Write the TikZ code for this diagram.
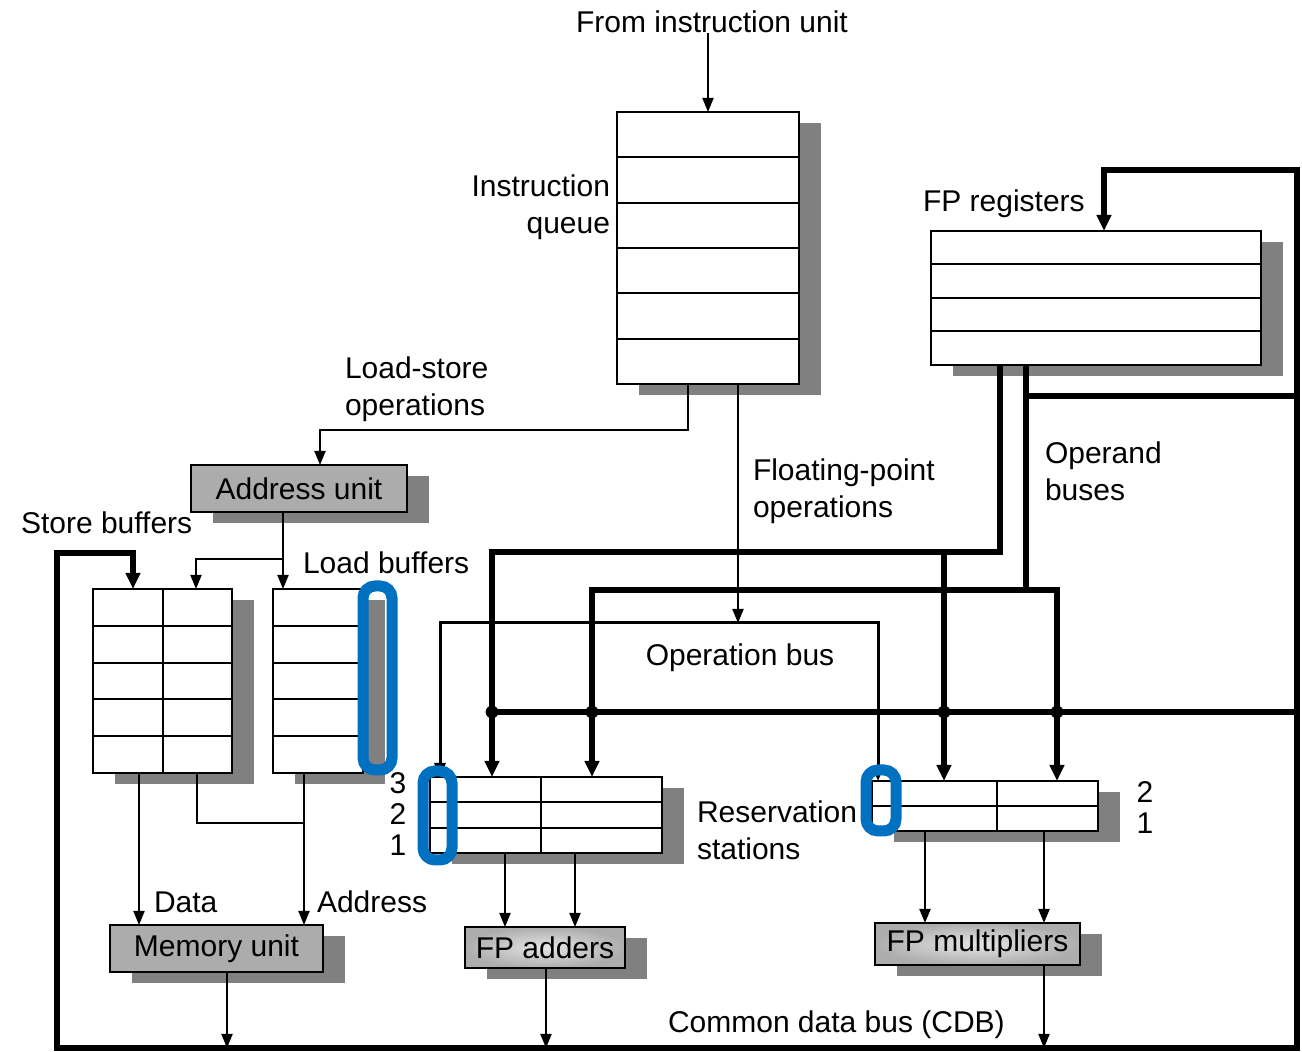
\documentclass[tikz,border=0pt]{standalone}
\usepackage{fontspec}
\setmainfont{Liberation Sans}
\usetikzlibrary{arrows.meta,positioning,calc,shadows}

\definecolor{shadegray}{RGB}{128,128,128}
\definecolor{unitgray}{RGB}{172,172,172}
\definecolor{hiblue}{RGB}{0,112,192}

\begin{document}
\begin{tikzpicture}[x=0.5pt, y=-0.5pt, line width=1pt,
  >={Triangle[length=7pt,width=5.5pt]},
  font=\fontsize{15}{18.5}\selectfont,
  every node/.style={inner sep=0pt, outer sep=0pt}]
\tikzstyle{table}=[draw, fill=white, anchor=north west,
  drop shadow={shadow xshift=11pt, shadow yshift=-5.5pt, fill=shadegray, opacity=1}]
\tikzstyle{rows}=[path picture={\foreach \k in {1,...,#1}
  \draw[line width=1pt] ($(path picture bounding box.north west)!{\k/(#1+1)}!(path picture bounding box.south west)$)
    -- ($(path picture bounding box.north east)!{\k/(#1+1)}!(path picture bounding box.south east)$);}]
\tikzstyle{unit}=[table, fill=unitgray]
\tikzstyle{fpunit}=[unit, inner color=white!90!black, outer color=black!32]
\tikzstyle{bus}=[line width=2.6pt, >={Triangle[length=8pt,width=7pt]}]
\tikzstyle{opbus}=[line width=1.5pt]
\tikzstyle{hilite}=[draw=hiblue, line width=5.5pt, rounded corners=6pt]
\useasboundingbox (0,0) rectangle (1302,1052);

% register files and buffers
\node[table, rows=5, minimum width=91pt, minimum height=136pt] (iq) at (617,112) {};
\node[table, rows=3, minimum width=165pt, minimum height=67pt] (fpr) at (931,231) {};
\node[table, rows=4, minimum width=69.5pt, minimum height=92pt] (sb) at (93,589) {};
\node[table, rows=4, minimum width=45pt, minimum height=92pt] (lb) at (273,589) {};
\node[table, rows=2, minimum width=116pt, minimum height=38pt] (rsa) at (430,777) {};
\node[table, rows=1, minimum width=113pt, minimum height=25pt] (rsm) at (872,781) {};
\draw (sb.north) -- (sb.south);
\draw ($(rsa.north west)+(22,0)$) -- ($(rsa.south west)+(22,0)$);
\draw ($(rsa.north west)+(111,0)$) -- ($(rsa.south west)+(111,0)$);
\draw ($(rsm.north west)+(23,0)$) -- ($(rsm.south west)+(23,0)$);
\draw ($(rsm.north west)+(125,0)$) -- ($(rsm.south west)+(125,0)$);

% functional units
\node[unit, minimum width=108pt, minimum height=23.5pt] (addr) at (191,465) {Address unit};
\node[unit, minimum width=106.5pt, minimum height=23.5pt] (mem) at (110,925) {Memory unit\hspace{6pt}};
\node[fpunit, minimum width=80pt, minimum height=20.5pt] (fpa) at (465,927) {FP adders};
\node[fpunit, minimum width=102.5pt, minimum height=21pt] (fpm) at (875,923) {FP multipliers};

% labels
\node (src) at (712,22) {From instruction unit};
\node[anchor=east, align=right] (iqlbl) at (610,207) {Instruction\\queue};
\node[anchor=west, align=left] (lslbl) at (345,389) {Load-store\\operations};
\node[anchor=west] (fprlbl) at (923,204) {FP registers};
\node[anchor=west, align=left] (fplbl) at (753,491) {Floating-point\\operations};
\node[anchor=west, align=left] (oblbl) at (1045,471) {Operand\\buses};
\node (opbuslbl) at (740,658) {Operation bus};
\node[anchor=west] (sblbl) at (21,523) {Store buffers};
\node[anchor=west] (lblbl) at (303,563) {Load buffers};
\node[anchor=west, align=left] (rslbl) at (697,830) {Reservation\\stations};
\node[anchor=west] (datlbl) at (154,902) {Data};
\node[anchor=west] (adrlbl) at (317,902) {Address};
\node[anchor=west] (cdblbl) at (668,1025) {Common data bus (CDB)};
\foreach \n/\y in {3/783,2/814,1/845} \node (rsan\n) at (398,\y) {\n};
\foreach \n/\y in {2/792,1/823} \node (rsmn\n) at (1145,\y) {\n};

% bend points
\coordinate (ls) at (688,430);
\coordinate (addrin) at (320,465);
\coordinate (fpop) at (738,623);
\coordinate (opL) at (440,623);
\coordinate (opR) at (878,623);
\coordinate (ob1) at (1000,552);
\coordinate (ob1L) at (492,552);
\coordinate (ob1M) at (944,552);
\coordinate (ob2) at (1026,590);
\coordinate (ob2L) at (592,590);
\coordinate (ob2R) at (1057,590);
\coordinate (c1) at (57,553);
\coordinate (c2) at (133,553);
\coordinate (c3) at (57,1048);
\coordinate (c4) at (1297,1048);
\coordinate (c5) at (1297,170);
\coordinate (c6) at (1104,170);
\coordinate (c7) at (1297,712);
\coordinate (c8) at (492,712);
\coordinate (c9) at (1297,396);
\coordinate (c10) at (1026,396);
\coordinate (a1) at (283,559);
\coordinate (a2) at (196,559);
\coordinate (m1) at (197,823);
\coordinate (m2) at (304,823);
\coordinate (xdat) at (139,0);
\coordinate (xmem) at (227,0);
\coordinate (xa1) at (505,0);
\coordinate (xa2) at (575,0);
\coordinate (xa3) at (546,0);
\coordinate (xm1) at (925,0);
\coordinate (xm2) at (1044,0);

% instruction flow
\draw[->] (src.south -| iq.north) -- (iq.north);
\draw[->] (ls |- iq.south) -- (ls) -| (addrin);
\draw[->] (fpop |- iq.south) -- (fpop);
\draw[opbus, <->] (opL |- rsa.north) -- (opL) -- (opR) -- (opR |- rsm.north);

% load/store side
\draw (a1 |- addr.south) -- (a1);
\draw[<->] (a2 |- sb.north) -- (a2) -- (a1) -- (a1 |- lb.north);
\draw[->] (xdat |- sb.south) -- (xdat |- mem.north);
\draw (m1 |- sb.south) -- (m1) -- (m2);
\draw[->] (m2 |- lb.south) -- (m2 |- mem.north);

% operand buses
\draw[bus, ->] (ob1 |- fpr.south) -- (ob1) -- (ob1L) -- (ob1L |- rsa.north);
\draw[bus, ->] (ob1M) -- (ob1M |- rsm.north);
\draw[bus] (ob2 |- fpr.south) -- (ob2);
\draw[bus, <->] (ob2L |- rsa.north) -- (ob2L) -- (ob2R) -- (ob2R |- rsm.north);

% common data bus
\draw[bus, <->] (c2 |- sb.north) -- (c2) -- (c1) -- (c3) -- (c4) -- (c5) -- (c6) -- (c6 |- fpr.north);
\draw[bus] (c7) -- (c8);
\draw[bus] (c9) -- (c10);
\foreach \p in {c8, ob2L |- c8, ob1M |- c8, ob2R |- c8}
  \fill (\p) circle (3.2pt);

% unit inputs and outputs
\draw[->] (xa1 |- rsa.south) -- (xa1 |- fpa.north);
\draw[->] (xa2 |- rsa.south) -- (xa2 |- fpa.north);
\draw[->] (xm1 |- rsm.south) -- (xm1 |- fpm.north);
\draw[->] (xm2 |- rsm.south) -- (xm2 |- fpm.north);
\draw[->] (xmem |- mem.south) -- (xmem |- c3);
\draw[->] (xa3 |- fpa.south) -- (xa3 |- c3);
\draw[->] (xm2 |- fpm.south) -- (xm2 |- c3);

% highlighted tags
\draw[hilite] (363,586) rectangle (392,770);
\draw[hilite] (423,771) rectangle (452,860);
\draw[hilite] (866,770) rectangle (896,831);
\end{tikzpicture}
\end{document}
